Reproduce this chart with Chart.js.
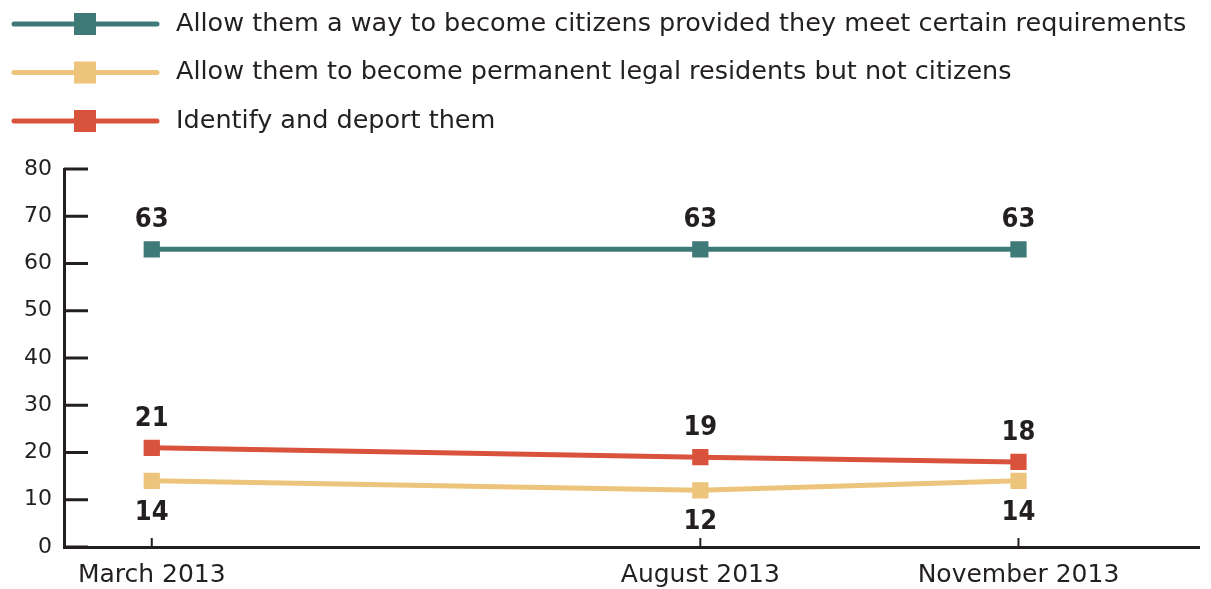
<!DOCTYPE html>
<html>
<head>
<meta charset="utf-8">
<script src="https://cdn.jsdelivr.net/npm/chart.js@4"></script>
<style>
  html, body { margin: 0; padding: 0; background: #fff; }
  #wrap { width: 1211px; height: 589px; }
</style>
</head>
<body>
<div id="wrap"><canvas id="vis" width="1211" height="589"></canvas></div>
<script>
// survey waves, placed on a month axis (0 = March 2013)
const waves = ['March 2013', 'August 2013', 'November 2013'];
const waveMonths = [0, 5, 7.9];

const citizens = [63, 63, 63];
const residents = [14, 12, 14];
const deport = [21, 19, 18];

const seriesNames = [
  'Allow them a way to become citizens provided they meet certain requirements',
  'Allow them to become permanent legal residents but not citizens',
  'Identify and deport them'
];
const yTicks = [0, 10, 20, 30, 40, 50, 60, 70, 80];

const ink = '#231f20';
const teal = '#3e7a78';
const gold = '#edc47b';
const red = '#d9533c';

function pts(vals) {
  return vals.map((v, i) => ({ x: waveMonths[i], y: v }));
}

function lineSet(label, vals, color, pos) {
  return {
    label: label,
    data: pts(vals),
    borderColor: color,
    backgroundColor: color,
    borderWidth: 5,
    pointStyle: 'rect',
    pointRadius: 11.5,
    pointHoverRadius: 11.5,
    pointBorderWidth: 0,
    tension: 0,
    labelPos: pos
  };
}

// value labels above / below markers
const valueLabels = {
  id: 'valueLabels',
  afterDatasetsDraw(chart) {
    const ctx = chart.ctx;
    ctx.save();
    ctx.font = 'bold 27px "DejaVu Sans Condensed", "DejaVu Sans"';
    ctx.fillStyle = ink;
    ctx.textAlign = 'center';
    ctx.textBaseline = 'middle';
    chart.data.datasets.forEach((ds, i) => {
      chart.getDatasetMeta(i).data.forEach((p, j) => {
        const dy = ds.labelPos === 'below' ? 32 : -29;
        ctx.fillText(String(ds.data[j].y), p.x, p.y + dy);
      });
    });
    ctx.restore();
  }
};

// inward tick marks on both axes
const axisTicks = {
  id: 'axisTicks',
  afterDraw(chart) {
    const ctx = chart.ctx;
    const xs = chart.scales.x, ys = chart.scales.y;
    const a = chart.chartArea;
    ctx.save();
    ctx.strokeStyle = ink;
    ctx.lineWidth = 3;
    ys.ticks.forEach(t => {
      const y = ys.getPixelForValue(t.value);
      ctx.beginPath();
      ctx.moveTo(a.left, y);
      ctx.lineTo(a.left + 24, y);
      ctx.stroke();
    });
    ctx.lineWidth = 2;
    xs.ticks.forEach(t => {
      const x = xs.getPixelForValue(t.value);
      ctx.beginPath();
      ctx.moveTo(x, a.bottom);
      ctx.lineTo(x, a.bottom - 9);
      ctx.stroke();
    });
    ctx.restore();
  }
};

// legend: line with square marker, text to the right
const lineLegend = {
  id: 'lineLegend',
  afterDraw(chart) {
    const ctx = chart.ctx;
    ctx.save();
    ctx.font = '25.5px "DejaVu Sans"';
    ctx.textBaseline = 'middle';
    chart.data.datasets.forEach((ds, i) => {
      const y = 24 + i * 48.5;
      ctx.strokeStyle = ds.borderColor;
      ctx.lineWidth = 5;
      ctx.lineCap = 'round';
      ctx.beginPath();
      ctx.moveTo(14, y);
      ctx.lineTo(157, y);
      ctx.stroke();
      ctx.fillStyle = ds.borderColor;
      ctx.fillRect(74, y - 11, 22, 22);
      ctx.fillStyle = ink;
      ctx.fillText(ds.label, 176, y);
    });
    ctx.restore();
  }
};

const ctx = document.getElementById('vis').getContext('2d');
const myChart = new Chart(ctx, {
  type: 'line',
  data: {
    datasets: [
      lineSet(seriesNames[0], citizens, teal, 'above'),
      lineSet(seriesNames[1], residents, gold, 'below'),
      lineSet(seriesNames[2], deport, red, 'above')
    ]
  },
  options: {
    responsive: false,
    animation: false,
    layout: { padding: { top: 169, right: 10, left: 0, bottom: 0 } },
    plugins: {
      legend: { display: false },
      tooltip: { enabled: false }
    },
    scales: {
      x: {
        type: 'linear',
        min: -0.8,
        max: 9.55,
        grid: { display: false, drawTicks: false },
        border: { color: ink, width: 3 },
        afterBuildTicks(scale) {
          scale.ticks = waveMonths.map(v => ({ value: v }));
        },
        afterFit(scale) { scale.height = 42; },
        ticks: {
          padding: 13,
          autoSkip: false,
          maxRotation: 0,
          color: ink,
          font: { family: 'DejaVu Sans', size: 25 },
          callback(value) {
            const k = waveMonths.indexOf(value);
            return k >= 0 ? waves[k] : '';
          }
        }
      },
      y: {
        min: 0,
        max: 80,
        grid: { display: false, drawTicks: false },
        border: { color: ink, width: 3 },
        afterBuildTicks(scale) {
          scale.ticks = yTicks.map(v => ({ value: v }));
        },
        afterFit(scale) { scale.width = 64; },
        ticks: {
          padding: 12,
          color: ink,
          font: { family: 'DejaVu Sans', size: 22 }
        }
      }
    }
  },
  plugins: [valueLabels, axisTicks, lineLegend]
});
</script>
</body>
</html>
